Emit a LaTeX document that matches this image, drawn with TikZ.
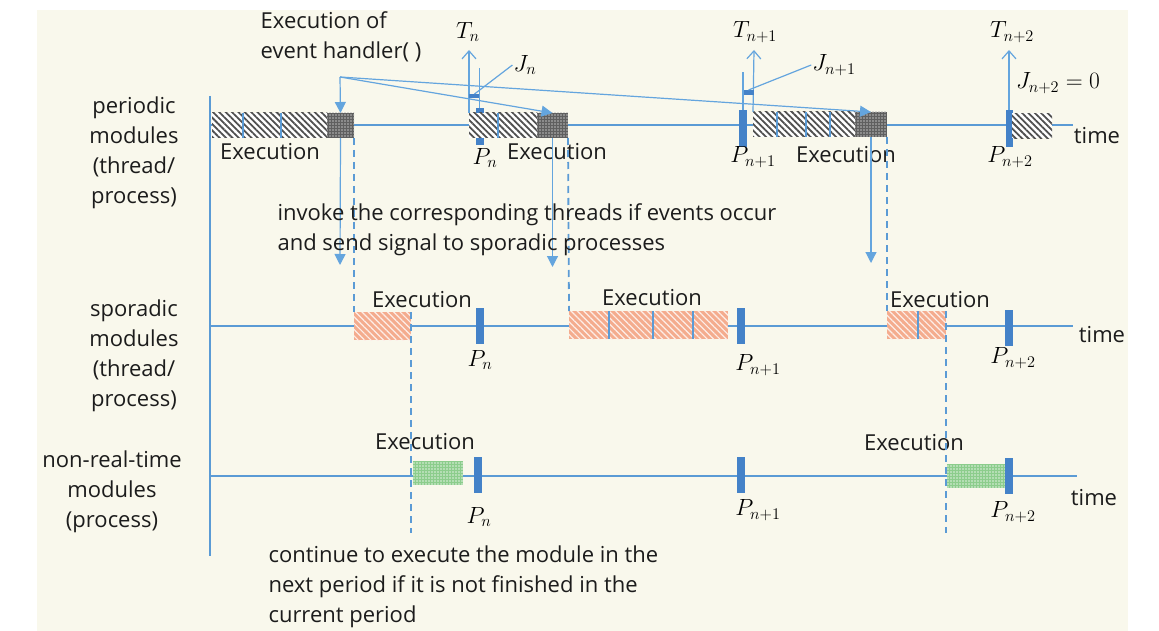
\documentclass[tikz,border=0pt]{standalone}
\usepackage{fontspec}
\setmainfont{Open Sans}
\usetikzlibrary{arrows.meta, positioning, patterns.meta}
\definecolor{cream}{RGB}{249,248,236}
\definecolor{lineblue}{RGB}{91,155,213}
\definecolor{arrowblue}{RGB}{100,165,222}
\definecolor{markblue}{RGB}{68,130,200}
\definecolor{hatchgray}{RGB}{80,80,80}
\definecolor{dotgray}{RGB}{95,95,95}
\definecolor{salmon}{RGB}{244,172,142}
\definecolor{mint}{RGB}{140,205,140}
\definecolor{txtgray}{RGB}{28,28,28}
\newcommand{\bigmath}[1]{\scalebox{1.13}{$#1$}}

\begin{document}
\begin{tikzpicture}[x=1pt, y=-1pt, font=\fontsize{22}{30}\selectfont, text=txtgray]
    \tikzstyle{axis} = [lineblue, line width=1.6pt]
    \tikzstyle{thinblue} = [arrowblue, line width=1.2pt]
    \tikzstyle{arrow} = [thinblue, -{Triangle[length=11pt,width=11pt]}]
    \tikzstyle{tarrow} = [thinblue, -{Straight Barb[length=8pt,width=14pt]}]
    \tikzstyle{dashline} = [lineblue, line width=1.8pt, dash pattern=on 7pt off 5pt]
    \tikzstyle{sepline} = [lineblue, line width=1.4pt]
    \tikzstyle{exbar} = [rectangle, inner sep=0pt, outer sep=0pt, anchor=west]
    \tikzstyle{hatchbar} = [exbar, minimum height=25pt, fill=white, postaction={pattern={Lines[angle=-45,distance=4.5pt,line width=1.8pt]}, pattern color=hatchgray}]
    \tikzstyle{dotbar} = [exbar, minimum height=25pt, fill=dotgray, postaction={pattern={Dots[distance=3pt,radius=0.8pt]}, pattern color=gray!55}]
    \tikzstyle{sporbar} = [exbar, minimum height=28pt, fill=salmon, postaction={pattern={Lines[angle=-45,distance=4.5pt,line width=1.2pt]}, pattern color=white!80!salmon}]
    \tikzstyle{nrtbar} = [exbar, minimum height=24pt, fill=mint, postaction={pattern={Dots[distance=3pt,radius=0.8pt]}, pattern color=white!70!mint}]
    \tikzstyle{pmark} = [rectangle, inner sep=0pt, outer sep=0pt, fill=markblue, minimum width=8pt, minimum height=36pt]
    \tikzstyle{jbar} = [rectangle, inner sep=0pt, outer sep=0pt, fill=markblue, minimum width=11pt, minimum height=4pt]
    \tikzstyle{mlab} = [inner sep=1pt, text=black]
    \tikzstyle{rowlabel} = [align=center]

    \fill[white] (0,0) rectangle (1159,631);
    \fill[cream] (37,10) rectangle (1128,631);
    \useasboundingbox (0,0) rectangle (1159,631);

    \coordinate (top) at (210,96);
    \coordinate (bot) at (210,556);
    \coordinate (o1) at (210,125);
    \coordinate (t1) at (1073,125);
    \coordinate (o2) at (210,326);
    \coordinate (t2) at (1073,326);
    \coordinate (o3) at (210,476);
    \coordinate (t3) at (1077,476);
    \draw[axis] (top) -- (bot);
    \draw[axis] (o1) -- (t1);
    \draw[axis] (o2) -- (t2);
    \draw[axis] (o3) -- (t3);

    \node (lper) [rowlabel] at (134,153) {periodic\\modules\\(thread/\\process)};
    \node (lspo) [rowlabel] at (134,356) {sporadic\\modules\\(thread/\\process)};
    \node (lnrt) [rowlabel] at (112,492) {non-real-time\\modules\\(process)};
    \node (tm1) at (1097,136) {time};
    \node (tm2) at (1102,335) {time};
    \node (tm3) at (1094,498) {time};

    \node (p1a) [hatchbar, minimum width=115pt] at (212,125.5) {};
    \node (p1b) [dotbar, minimum width=27pt] at (327,125.5) {};
    \node (pm1) [pmark, minimum height=37pt] at (479.5,126.5) {};
    \node (p2a) [hatchbar, minimum width=68pt] at (469,125.5) {};
    \node (p2b) [dotbar, minimum width=31pt] at (537,125.5) {};
    \node (pm2) [pmark, minimum height=37pt] at (743,128.5) {};
    \node (p3a) [hatchbar, minimum width=102pt] at (753,124.5) {};
    \node (p3b) [dotbar, minimum width=32pt] at (855,124.5) {};
    \node (pm3) [pmark, minimum width=7pt, minimum height=37pt] at (1009,128.5) {};
    \node (p4a) [hatchbar, minimum width=40pt] at (1012,126) {};
    \foreach \x in {243,281,498} \draw[sepline] (\x,113) -- (\x,138);
    \foreach \x in {777,806,830} \draw[sepline] (\x,112) -- (\x,137);

    \node (s1) [sporbar, minimum width=57pt] at (354,326) {};
    \node (s2) [sporbar, minimum width=159pt] at (569,325) {};
    \node (s3) [sporbar, minimum width=59pt] at (887,325) {};
    \node (sm1) [pmark] at (480,326) {};
    \node (sm2) [pmark] at (740.5,326) {};
    \node (sm3) [pmark] at (1009,327.5) {};
    \foreach \x in {609,653,693,918} \draw[sepline] (\x,311) -- (\x,339);

    \node (n1) [nrtbar, minimum width=50pt] at (413,473) {};
    \node (n2) [nrtbar, minimum width=58pt] at (947,476) {};
    \node (nm1) [pmark] at (477.5,475) {};
    \node (nm2) [pmark] at (740.5,475) {};
    \node (nm3) [pmark] at (1009,476) {};

    \node (ex1) at (270,152) {Execution};
    \node (ex2) at (557,152) {Execution};
    \node (ex3) at (846,155) {Execution};
    \node (ex4) at (422,300) {Execution};
    \node (ex5) at (652,298) {Execution};
    \node (ex6) at (940,300) {Execution};
    \node (ex7) at (425,442) {Execution};
    \node (ex8) at (914,443) {Execution};

    \node (lp1) [mlab] at (485,158) {\bigmath{P_n}};
    \node (lp2) [mlab] at (753,157) {\bigmath{P_{n+1}}};
    \node (lp3) [mlab] at (1010,157) {\bigmath{P_{n+2}}};
    \node (lp4) [mlab] at (480,360) {\bigmath{P_n}};
    \node (lp5) [mlab] at (758,365) {\bigmath{P_{n+1}}};
    \node (lp6) [mlab] at (1013,358) {\bigmath{P_{n+2}}};
    \node (lp7) [mlab] at (479,517) {\bigmath{P_n}};
    \node (lp8) [mlab] at (758,510) {\bigmath{P_{n+1}}};
    \node (lp9) [mlab] at (1013,512) {\bigmath{P_{n+2}}};

    \node (tn) [mlab] at (468,32) {\bigmath{T_n}};
    \node (tn1) [mlab] at (755,32) {\bigmath{T_{n+1}}};
    \node (tn2) [mlab] at (1012,32) {\bigmath{T_{n+2}}};
    \coordinate (tntip) at (469,50);
    \coordinate (tn1tip) at (754,50);
    \coordinate (tn2tip) at (1009,50);
    \draw[tarrow] (p2a.north west) -- (tntip);
    \draw[tarrow] (p3a.north west) -- (tn1tip);
    \draw[tarrow] (pm3.north) -- (tn2tip);

    \node (jb1) [jbar] at (474.5,96) {};
    \node (jb2) [jbar, minimum height=5pt] at (748.5,92.5) {};
    \draw[thinblue] (pm1.north) -- ++(0,-40);
    \draw[thinblue] (pm2.north) -- ++(0,-38);
    \node (jn) [mlab] at (525,65) {\bigmath{J_n}};
    \node (jn1) [mlab] at (834,65) {\bigmath{J_{n+1}}};
    \node (jn2) [mlab] at (1058,83) {\bigmath{J_{n+2}=0}};
    \draw[thinblue] (jb1.north) -- (jn.west);
    \draw[thinblue] (jb2.north) -- (jn1.west);

    \node (hdl) [align=left] at (341,37) {Execution of\\event handler( )};
    \coordinate (hnd) at (340,77);
    \draw[arrow] (hnd) -- (p1b.north);
    \draw[arrow] (hnd) -- (p2b.north);
    \draw[arrow] (hnd) -- (p3b.north);
    \coordinate (d1) at (340,265);
    \coordinate (d2) at (552.5,267);
    \coordinate (d3) at (871,263);
    \draw[arrow] (p1b.south) -- (d1);
    \draw[arrow] (p2b.south) -- (d2);
    \draw[arrow] (p3b.south) -- (d3);

    \coordinate (e1) at (411,533);
    \coordinate (e2) at (946,533);
    \draw[dashline] (p1b.south east) -- (s1.north west);
    \draw[dashline] (s1.north east) -- (e1);
    \draw[dashline] (p2b.south east) -- (s2.north west);
    \draw[dashline] (p3b.south east) -- (s3.north west);
    \draw[dashline] (s3.north east) -- (e2);

    \node (inv) [anchor=west, align=left] at (274,230) {invoke the corresponding threads if events occur\\and send signal to sporadic processes};
    \node (cont) [anchor=west, align=left] at (265,587) {continue to execute the module in the\\next period if it is not finished in the\\current period};
\end{tikzpicture}
\end{document}
